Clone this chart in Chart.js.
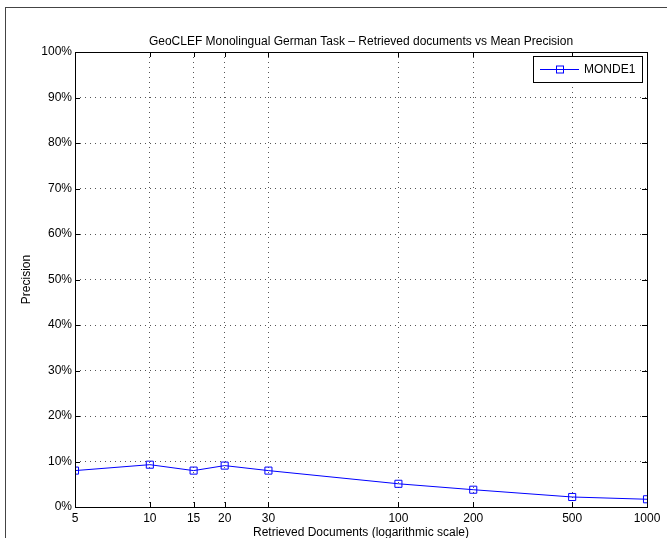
<!DOCTYPE html>
<html>
<head>
<meta charset="utf-8">
<script src="https://cdn.jsdelivr.net/npm/chart.js@4/dist/chart.umd.min.js"></script>
<style>
  body { margin: 0; background: #fff; }
  #wrap { width: 667px; height: 538px; }
</style>
</head>
<body>
<div id="wrap"><canvas id="c" width="667" height="538"></canvas></div>
<script>
const docs = [5, 10, 15, 20, 30, 100, 200, 500, 1000];
const precision = [8.0, 9.3, 8.0, 9.1, 8.0, 5.1, 3.8, 2.2, 1.7];
const xTicks = [5, 10, 15, 20, 30, 100, 200, 500, 1000];
const seriesName = "MONDE1";
const titleText = "GeoCLEF Monolingual German Task \u2013 Retrieved documents vs Mean Precision";
const xTitle = "Retrieved Documents (logarithmic scale)";
const yTitle = "Precision";

const FONT = "'Liberation Sans', Arial, Helvetica, sans-serif";

// frame, inward ticks, titles and legend in matlab style
const matlabDecor = {
  id: "matlabDecor",
  afterDraw(chart) {
    const ctx = chart.ctx;
    const a = chart.chartArea;
    const xs = chart.scales.x, ys = chart.scales.y;
    ctx.save();

    // figure border
    ctx.strokeStyle = "#444";
    ctx.lineWidth = 1;
    ctx.strokeRect(5.5, 7.5, 720, 600);

    // axes box
    ctx.strokeStyle = "#000";
    ctx.strokeRect(Math.round(a.left) + 0.5, Math.round(a.top) + 0.5,
      Math.round(a.right - a.left), Math.round(a.bottom - a.top));

    // inward ticks
    ctx.beginPath();
    xs.ticks.forEach(t => {
      const px = Math.round(xs.getPixelForValue(t.value)) + 0.5;
      ctx.moveTo(px, a.bottom); ctx.lineTo(px, a.bottom - 5);
      ctx.moveTo(px, a.top); ctx.lineTo(px, a.top + 5);
    });
    ys.ticks.forEach(t => {
      const py = Math.round(ys.getPixelForValue(t.value)) + 0.5;
      ctx.moveTo(a.left, py); ctx.lineTo(a.left + 5, py);
      ctx.moveTo(a.right, py); ctx.lineTo(a.right - 5, py);
    });
    ctx.stroke();

    // titles
    const cx = (a.left + a.right) / 2;
    ctx.fillStyle = "#000";
    ctx.font = "12px " + FONT;
    ctx.textAlign = "center";
    ctx.textBaseline = "middle";
    ctx.fillText(titleText, cx, 42);
    ctx.fillText(xTitle, cx, 533);
    ctx.save();
    ctx.translate(27, (a.top + a.bottom) / 2);
    ctx.rotate(-Math.PI / 2);
    ctx.fillText(yTitle, 0, 0);
    ctx.restore();

    // legend box
    const lx = 533, ly = 56, lw = 109, lh = 26;
    ctx.fillStyle = "#fff";
    ctx.fillRect(lx, ly, lw, lh);
    ctx.strokeStyle = "#000";
    ctx.strokeRect(lx + 0.5, ly + 0.5, lw, lh);
    const my = ly + lh / 2 + 0.5;
    ctx.strokeStyle = "#0000ff";
    ctx.beginPath();
    ctx.moveTo(lx + 7, my); ctx.lineTo(lx + 46, my);
    ctx.stroke();
    ctx.strokeRect(lx + 23.5, my - 3.5, 7, 7);
    ctx.fillStyle = "#000";
    ctx.textAlign = "left";
    ctx.fillText(seriesName, lx + 51, my);

    ctx.restore();
  }
};

new Chart(document.getElementById("c"), {
  type: "line",
  data: {
    datasets: [{
      label: seriesName,
      data: docs.map((d, i) => ({ x: d, y: precision[i] })),
      borderColor: "#0000ff",
      borderWidth: 1,
      pointStyle: "rect",
      pointRadius: 5,
      pointBorderColor: "#0000ff",
      pointBackgroundColor: "rgba(0,0,0,0)",
      pointBorderWidth: 1,
      tension: 0,
      fill: false
    }]
  },
  options: {
    responsive: false,
    animation: false,
    layout: { padding: { top: 52, right: 20, left: 0, bottom: 0 } },
    plugins: {
      legend: { display: false },
      tooltip: { enabled: false },
      title: { display: false }
    },
    scales: {
      x: {
        type: "logarithmic",
        min: 5,
        max: 1000,
        afterBuildTicks: s => { s.ticks = xTicks.map(v => ({ value: v })); },
        afterFit: s => { s.height = 31; },
        ticks: {
          color: "#000",
          font: { family: FONT, size: 12 },
          padding: 4,
          maxRotation: 0,
          autoSkip: false,
          callback: v => String(v)
        },
        grid: { color: "#555", drawTicks: false },
        border: { display: false, dash: [1, 4] }
      },
      y: {
        min: 0,
        max: 100,
        afterFit: s => { s.width = 75; },
        ticks: {
          stepSize: 10,
          color: "#000",
          font: { family: FONT, size: 12 },
          padding: 3,
          callback: v => v + "%"
        },
        grid: { color: "#555", drawTicks: false },
        border: { display: false, dash: [1, 4] }
      }
    }
  },
  plugins: [matlabDecor]
});
</script>
</body>
</html>
